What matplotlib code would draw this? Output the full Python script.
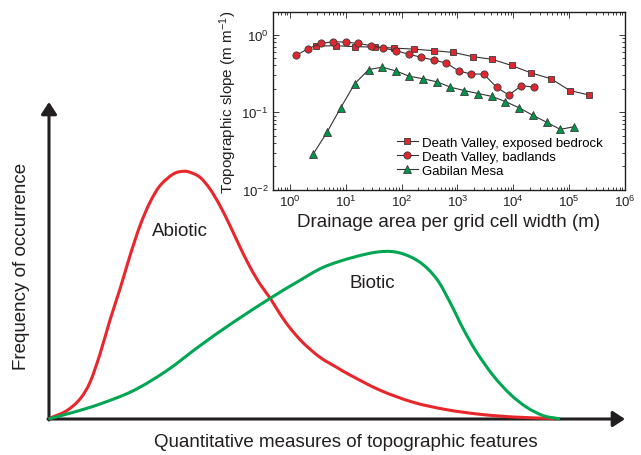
import matplotlib
matplotlib.use("Agg")
import matplotlib.pyplot as plt
import numpy as np
from matplotlib.patches import PathPatch
from matplotlib.path import Path

plt.rcParams["font.family"] = ["Liberation Sans", "DejaVu Sans"]
plt.rcParams["mathtext.default"] = "regular"

TEXT_COLOR = "#231f20"
RED = "#e8262b"
GREEN = "#00a651"

# main sketch: curves (arbitrary units)
abiotic_x = [0, 3, 17.7, 31, 41, 51, 61, 71, 81, 91, 101, 111, 124.3, 134.3,
             141, 151, 161, 171, 181, 191, 201, 211, 221.7, 231, 241, 254.3,
             271, 287.7, 301, 331, 364.3, 397.7, 431, 464.3, 497.7, 507]
abiotic_y = [0, 1.7, 8.3, 20, 36.7, 65, 99, 130, 163.3, 193.3, 216.7, 233.3,
             245, 247.7, 246.7, 241.7, 230, 213.3, 193.3, 172, 152, 135, 120,
             105, 91, 76, 61.7, 51.7, 44, 28.8, 16.7, 9.3, 4.7, 2, 0.7, 0]

biotic_x = [0, 3, 24.3, 51, 84.3, 117.7, 151, 184.3, 221.7, 247.7, 274.3,
            304.3, 331, 351, 371, 387.7, 401, 414.3, 427.7, 444.3, 461, 477.7,
            494.3, 507.7, 511]
biotic_y = [0, 1, 6.7, 15, 28.3, 48.3, 73.3, 96.7, 121, 136.7, 151.7, 161.7,
            167.3, 166, 156.7, 140, 116.7, 90, 66.7, 43.3, 25, 11.7, 3.3,
            0.7, 0]

# inset: topographic slope vs drainage area
bedrock_area = [2.9, 6.6, 14.6, 33, 74, 168, 375, 845, 1870, 4200, 9300,
                2.1e4, 4.7e4, 1.03e5, 2.3e5]
bedrock_slope = [0.71, 0.72, 0.70, 0.69, 0.67, 0.65, 0.62, 0.59, 0.52, 0.48,
                 0.40, 0.32, 0.27, 0.19, 0.166]

badlands_area = [1.28, 2.13, 3.54, 5.97, 10.1, 16.7, 28.3, 47, 79, 133, 223,
                 375, 630, 1050, 1770, 2950, 5000, 8300, 1.4e4, 2.3e4]
badlands_slope = [0.54, 0.66, 0.77, 0.81, 0.80, 0.77, 0.72, 0.67, 0.62, 0.56,
                  0.51, 0.47, 0.43, 0.34, 0.31, 0.31, 0.21, 0.166, 0.22, 0.21]

gabilan_area = [2.6, 4.6, 8.1, 14.4, 25.6, 45, 79, 137, 241, 430, 745, 1320,
                2330, 4100, 7200, 1.26e4, 2.25e4, 3.96e4, 6.9e4, 1.24e5]
gabilan_slope = [0.0288, 0.055, 0.114, 0.232, 0.354, 0.38, 0.34, 0.29, 0.27,
                 0.246, 0.21, 0.19, 0.174, 0.16, 0.137, 0.114, 0.091, 0.074,
                 0.060, 0.065]


def smooth_path(xs, ys):
    # bezier path passing through the read points (catmull-rom tangents)
    pts = np.column_stack([xs, ys]).astype(float)
    verts = [pts[0]]
    codes = [Path.MOVETO]
    n = len(pts)
    for i in range(n - 1):
        p0 = pts[max(i - 1, 0)]
        p1 = pts[i]
        p2 = pts[i + 1]
        p3 = pts[min(i + 2, n - 1)]
        verts += [p1 + (p2 - p0) / 6, p2 - (p3 - p1) / 6, p2]
        codes += [Path.CURVE4] * 3
    return Path(verts, codes)


def main():
    fig = plt.figure(figsize=(6.41, 4.56), dpi=100)

    ax = fig.add_axes([49 / 641, 36 / 456, 576 / 641, 317 / 456])
    ax.set_xlim(0, 576)
    ax.set_ylim(0, 317)
    ax.axis("off")

    arrow = dict(arrowstyle="-|>,head_length=0.36,head_width=0.235",
                 mutation_scale=20, lw=2.2, color=TEXT_COLOR,
                 shrinkA=0, shrinkB=0)
    ax.annotate("", xy=(576, 0), xytext=(-1, 0), arrowprops=arrow,
                annotation_clip=False, zorder=1)
    ax.annotate("", xy=(0, 317), xytext=(0, -1), arrowprops=arrow,
                annotation_clip=False, zorder=1)

    for xs, ys, color in [(abiotic_x, abiotic_y, RED),
                          (biotic_x, biotic_y, GREEN)]:
        ax.add_patch(PathPatch(smooth_path(xs, ys), fill=False,
                               edgecolor=color, lw=2.2, clip_on=False,
                               zorder=2))

    ax.text(130.5, 188.3, "Abiotic", fontsize=13.5, color=TEXT_COLOR,
            ha="center", va="center")
    ax.text(323.5, 136, "Biotic", fontsize=13.5, color=TEXT_COLOR,
            ha="center", va="center")

    fig.text(22 / 641, 1 - 266 / 456, "Frequency of occurrence",
             fontsize=13.5, color=TEXT_COLOR, rotation=90,
             ha="center", va="center")
    fig.text(345.5 / 641, 1 - 443 / 456,
             "Quantitative measures of topographic features",
             fontsize=13.5, color=TEXT_COLOR, ha="center", va="center")

    # inset
    axin = fig.add_axes([272.7 / 641, (456 - 190.7) / 456,
                         352.3 / 641, 177.4 / 456])
    axin.set_xscale("log")
    axin.set_yscale("log")
    axin.set_xlim(0.49, 1e6)
    axin.set_ylim(0.01, 1.94)

    line_kw = dict(color="#333333", lw=0.8, markeredgecolor="#3a3a3a",
                   markeredgewidth=0.6)
    axin.plot(bedrock_area, bedrock_slope, marker="s", markersize=4.3,
              markerfacecolor="#e0262e", label="Death Valley, exposed bedrock",
              **line_kw)
    axin.plot(badlands_area, badlands_slope, marker="o", markersize=5.2,
              markerfacecolor="#e0262e", label="Death Valley, badlands",
              **line_kw)
    axin.plot(gabilan_area, gabilan_slope, marker="^", markersize=5.2,
              markerfacecolor="#00964a", label="Gabilan Mesa", **line_kw)

    axin.set_xticks([1, 10, 100, 1e3, 1e4, 1e5, 1e6])
    axin.set_yticks([0.01, 0.1, 1])
    axin.tick_params(which="both", direction="in", top=True, right=True,
                     labelsize=9.5, colors=TEXT_COLOR, width=0.6)
    axin.tick_params(which="major", length=4, pad=3)
    axin.tick_params(which="minor", length=2)
    for spine in axin.spines.values():
        spine.set_linewidth(1.0)
        spine.set_color(TEXT_COLOR)

    axin.set_xlabel("Drainage area per grid cell width (m)", fontsize=13.5,
                    color=TEXT_COLOR, labelpad=3)
    axin.set_ylabel("Topographic slope (m m$^{-1}$)", fontsize=11,
                    color=TEXT_COLOR, labelpad=2)

    axin.legend(loc="upper left", bbox_to_anchor=(0.352, 0.301),
                frameon=False, fontsize=9.5, handlelength=1.6,
                handletextpad=0.3, labelspacing=0.15, borderpad=0,
                borderaxespad=0, numpoints=1)

    fig.savefig("out.png", dpi=100)
    plt.close(fig)


if __name__ == "__main__":
    main()
